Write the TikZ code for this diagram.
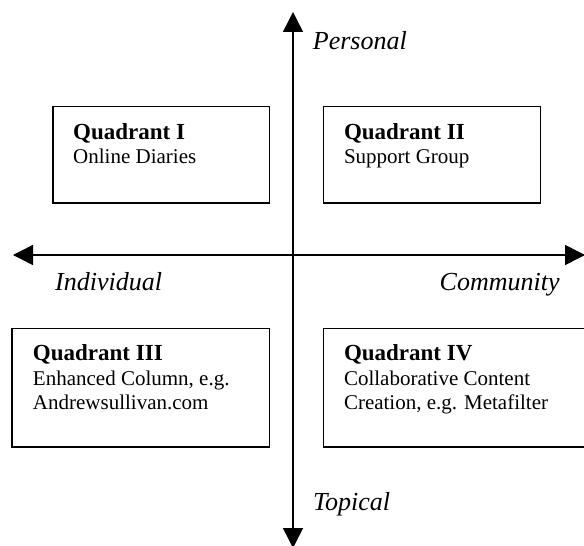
\documentclass[tikz,border=0pt]{standalone}
\usepackage{fontspec}
\setmainfont{Liberation Serif}
\usetikzlibrary{arrows.meta}
\begin{document}
\begin{tikzpicture}[x=1bp,y=-1bp,
  axisline/.style={line width=1.5bp,{Triangle[length=20bp,width=20bp]}-{Triangle[length=20bp,width=20bp]}},
  qbox/.style={draw,line width=1.6bp,inner sep=0pt},
  axlabel/.style={inner sep=0pt,anchor=base west,font=\fontsize{26bp}{30bp}\selectfont\itshape},
  qtitle/.style={inner sep=0pt,anchor=base west,font=\fontsize{23bp}{26bp}\selectfont\bfseries},
  qtext/.style={inner sep=0pt,anchor=base west,align=left,font=\fontsize{21bp}{24bp}\selectfont}
]
\useasboundingbox (0,0) rectangle (584,546);
% axes
\coordinate (vt) at (293,12);
\coordinate (vb) at (293,548);
\coordinate (hl) at (13,255);
\coordinate (hr) at (585,255);
\draw[axisline] (vb) -- (vt);
\draw[axisline] (hl) -- (hr);
% boxes
\node[qbox,minimum width=216.5bp,minimum height=96bp] (b1) at (161.25,154.7) {};
\node[qbox,minimum width=217bp,minimum height=96bp] (b2) at (431.8,154.7) {};
\node[qbox,minimum width=257.7bp,minimum height=118.4bp] (b3) at (140.75,387.5) {};
\node[qbox,minimum width=270bp,minimum height=118.4bp] (b4) at (458.3,387.5) {};
% box texts
\node[qtitle] (t1) at (73,139.3) {Quadrant I};
\node[qtext] (d1) at (73,164) {Online Diaries};
\node[qtitle] (t2) at (343.8,139.3) {Quadrant II};
\node[qtext] (d2) at (343.8,164) {Support Group};
\node[qtitle] (t3) at (32.8,360.7) {Quadrant III};
\node[qtext] (d3a) at (32.8,385.7) {Enhanced Column, e.g.};
\node[qtext] (d3b) at (32.8,409.3) {Andrewsullivan.com};
\node[qtitle] (t4) at (343.8,360.7) {Quadrant IV};
\node[qtext] (d4a) at (343.8,385.7) {Collaborative Content};
\node[qtext] (d4b) at (343.8,409.3) {Creation, e.g. Metafilter};
% axis labels
\node[axlabel] (personal) at (312.7,50) {Personal};
\node[axlabel] (individual) at (55,290) {Individual};
\node[axlabel] (community) at (439.5,290) {Community};
\node[axlabel] (topical) at (312.8,510.7) {Topical};
\end{tikzpicture}
\end{document}
